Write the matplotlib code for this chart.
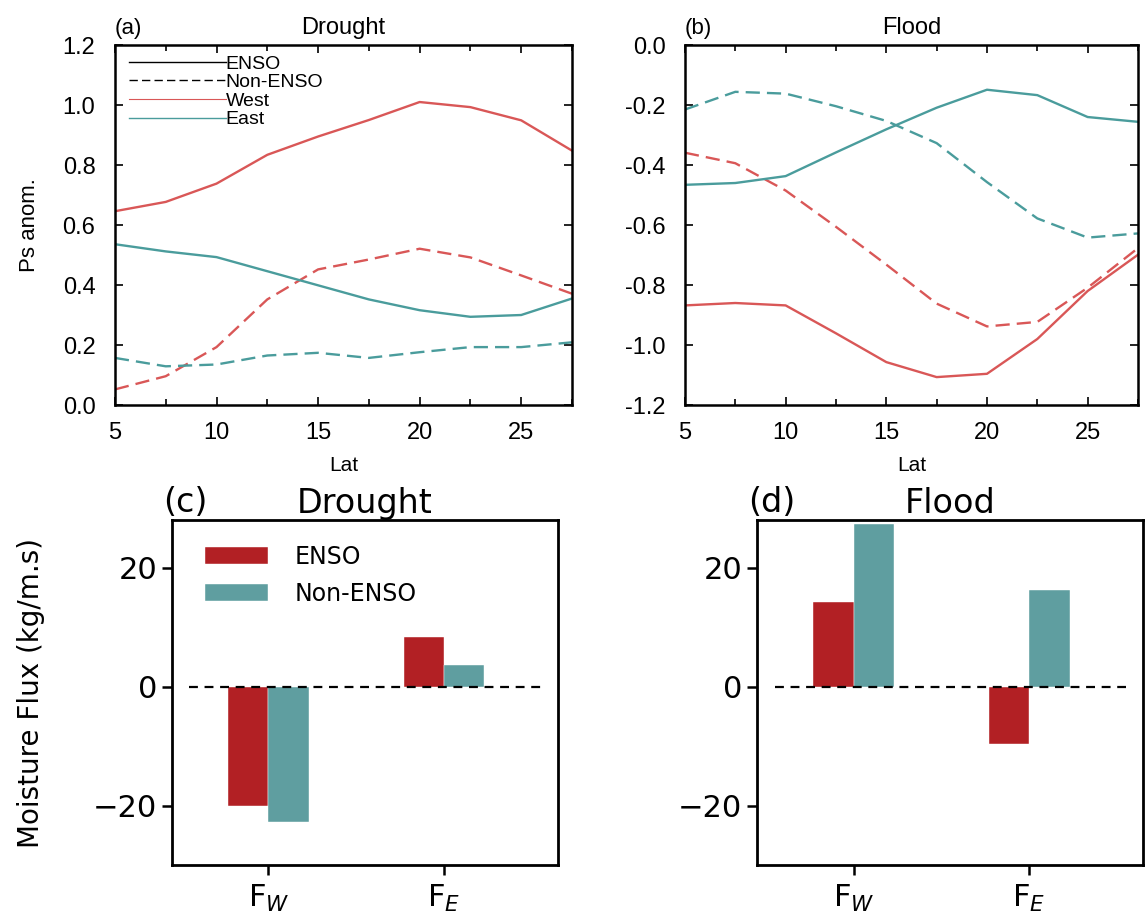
import matplotlib
matplotlib.use("Agg")
import matplotlib.pyplot as plt
from matplotlib.lines import Line2D
import numpy as np

# ---- data ----
lat = [5, 7.5, 10, 12.5, 15, 17.5, 20, 22.5, 25, 27.5]

drought_west_enso = [0.646, 0.677, 0.738, 0.834, 0.895, 0.950, 1.010, 0.993, 0.949, 0.848]
drought_west_non = [0.052, 0.096, 0.193, 0.352, 0.452, 0.485, 0.521, 0.492, 0.432, 0.371]
drought_east_enso = [0.536, 0.512, 0.493, 0.446, 0.399, 0.352, 0.316, 0.294, 0.300, 0.355]
drought_east_non = [0.157, 0.129, 0.135, 0.165, 0.174, 0.157, 0.176, 0.193, 0.193, 0.209]

flood_west_enso = [-0.868, -0.860, -0.868, -0.961, -1.057, -1.107, -1.096, -0.980, -0.820, -0.699]
flood_west_non = [-0.359, -0.394, -0.485, -0.606, -0.732, -0.862, -0.938, -0.923, -0.809, -0.677]
flood_east_enso = [-0.466, -0.460, -0.437, -0.358, -0.281, -0.209, -0.149, -0.167, -0.240, -0.256]
flood_east_non = [-0.215, -0.156, -0.162, -0.204, -0.253, -0.327, -0.457, -0.578, -0.642, -0.628]

flux_labels = [r"F$_W$", r"F$_E$"]
drought_flux_enso = [-20.0, 8.3]
drought_flux_non = [-22.7, 3.7]
flood_flux_enso = [14.3, -9.7]
flood_flux_non = [27.3, 16.3]

RED_LINE = "#d95757"
TEAL_LINE = "#4a9c9c"
RED_BAR = "#b22024"
TEAL_BAR = "#5f9ea0"

fig = plt.figure(figsize=(11.46, 9.19), dpi=100)

helv = ["Liberation Sans", "DejaVu Sans"]


def line_panel(ax, w_e, w_n, e_e, e_n, ylim, yticks, letter, title, ylabel=None):
    ax.plot(lat, w_e, color=RED_LINE, lw=1.7)
    ax.plot(lat, w_n, color=RED_LINE, lw=1.7, ls=(0, (6, 3)))
    ax.plot(lat, e_e, color=TEAL_LINE, lw=1.7)
    ax.plot(lat, e_n, color=TEAL_LINE, lw=1.7, ls=(0, (6, 3)))
    ax.set_xlim(5, 27.5)
    ax.set_ylim(*ylim)
    ax.set_xticks([5, 10, 15, 20, 25])
    ax.set_xticks([7.5, 12.5, 17.5, 22.5, 27.5], minor=True)
    ax.set_yticks(yticks)
    ax.set_yticklabels([f"{v:.1f}".replace("-0.0", "0.0") for v in yticks],
                       fontfamily=helv, fontsize=17)
    ax.set_xticklabels(["5", "10", "15", "20", "25"], fontfamily=helv, fontsize=17)
    ax.tick_params(which="both", direction="in", top=True, right=True, width=1.2)
    ax.tick_params(which="major", length=6)
    ax.tick_params(which="minor", length=4)
    ax.tick_params(axis="y", which="both", pad=14)
    ax.tick_params(axis="x", which="both", pad=12)
    for s in ax.spines.values():
        s.set_linewidth(1.8)
    ax.set_xlabel("Lat", fontfamily=helv, fontsize=15, labelpad=9)
    if ylabel:
        ax.set_ylabel(ylabel, fontfamily=helv, fontsize=16, labelpad=16)
    ax.set_title(title, fontfamily=helv, fontsize=17, pad=8)
    ax.set_title(letter, loc="left", fontfamily=helv, fontsize=16, pad=8)


ax_a = fig.add_axes([0.1003, 0.5593, 0.3988, 0.3917])
line_panel(ax_a, drought_west_enso, drought_west_non, drought_east_enso, drought_east_non,
           (0, 1.2), np.round(np.arange(0, 1.21, 0.2), 1), "(a)", "Drought", "Ps anom.")

ax_b = fig.add_axes([0.5977, 0.5593, 0.3953, 0.3917])
line_panel(ax_b, flood_west_enso, flood_west_non, flood_east_enso, flood_east_non,
           (-1.2, 0), np.round(np.arange(-1.2, 0.01, 0.2), 1), "(b)", "Flood")

handles = [
    Line2D([], [], color="black", lw=1.0),
    Line2D([], [], color="black", lw=1.0, ls=(0, (6, 3))),
    Line2D([], [], color=RED_LINE, lw=0.8),
    Line2D([], [], color=TEAL_LINE, lw=1.0),
]
ax_a.legend(handles, ["ENSO", "Non-ENSO", "West", "East"], loc="upper left",
            frameon=False, handlelength=5.0, handletextpad=0.0, labelspacing=0.05,
            prop={"family": helv, "size": 14}, borderaxespad=0.3, bbox_to_anchor=(0.0, 1.01))


def bar_panel(ax, enso, non, letter, title, legend=False):
    x = np.arange(len(flux_labels))
    w = 0.23
    ax.bar(x - w / 2, enso, w, color=RED_BAR, label="ENSO", edgecolor="white", linewidth=0.3)
    ax.bar(x + w / 2, non, w, color=TEAL_BAR, label="Non-ENSO", edgecolor="white", linewidth=0.3)
    ax.hlines(0, -0.45, 1.55, colors="black", linestyles=(0, (4, 3)), lw=1.6)
    ax.set_xlim(-0.55, 1.65)
    ax.set_ylim(-30, 28)
    ax.set_yticks([-20, 0, 20])
    ax.set_xticks(x)
    ax.set_xticklabels(flux_labels, fontsize=22)
    ax.tick_params(axis="y", labelsize=22, width=1.8, length=7)
    ax.tick_params(axis="x", width=1.8, length=7, pad=6)
    for s in ax.spines.values():
        s.set_linewidth(2.0)
    ax.set_title(title, fontsize=24, pad=2)
    ax.text(-0.024, 1.005, letter, transform=ax.transAxes, fontsize=24, ha="left", va="bottom")
    if legend:
        ax.legend(loc="upper left", frameon=False, fontsize=17, handlelength=2.7,
                  handleheight=0.72, handletextpad=1.1, labelspacing=0.55,
                  bbox_to_anchor=(0.03, 0.99))


ax_c = fig.add_axes([0.150, 0.0588, 0.337, 0.375])
bar_panel(ax_c, drought_flux_enso, drought_flux_non, "(c)", "Drought", legend=True)
ax_d = fig.add_axes([0.6606, 0.0588, 0.337, 0.375])
bar_panel(ax_d, flood_flux_enso, flood_flux_non, "(d)", "Flood")

fig.text(0.027, 0.246, "Moisture Flux (kg/m.s)", rotation=90, fontsize=20, ha="center", va="center")

fig.savefig("out.png", dpi=100)
